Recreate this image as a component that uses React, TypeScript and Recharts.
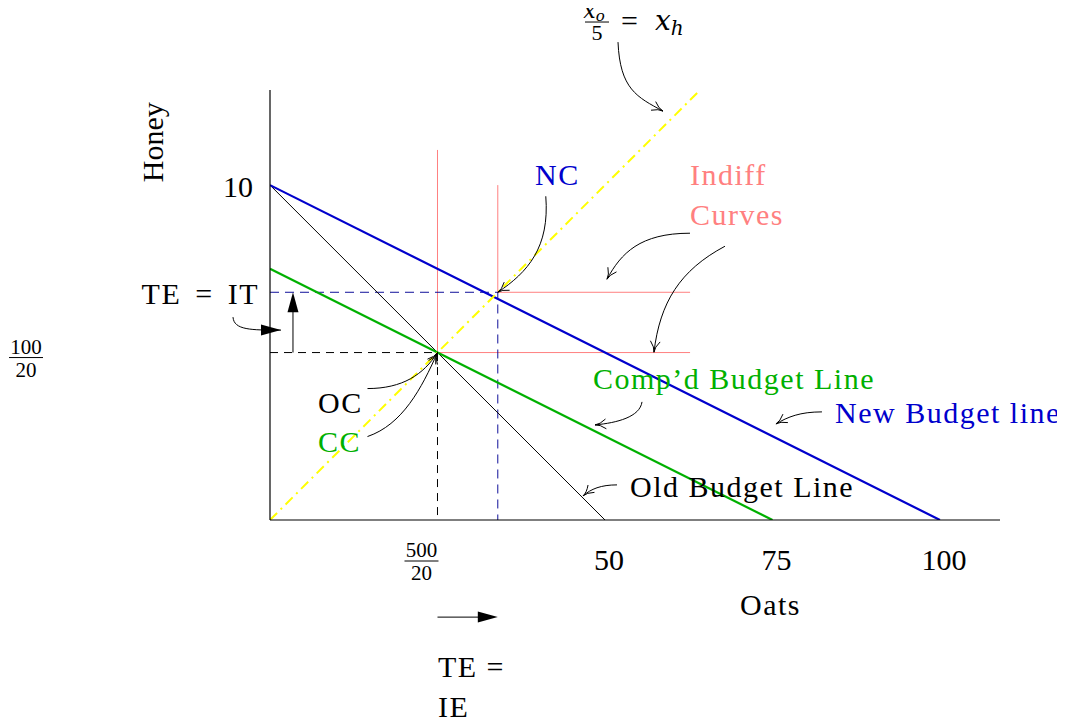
import React from "react";
import { LineChart, Line, XAxis, YAxis, ReferenceDot, ReferenceLine } from "recharts";

// budget lines (oats on x, honey on y)
const oldBudget = [{ x: 0, y: 10 }, { x: 50, y: 0 }];
const newBudget = [{ x: 0, y: 10 }, { x: 100, y: 0 }];
const compBudget = [{ x: 0, y: 7.5 }, { x: 75, y: 0 }];
const ratioLine = [{ x: 0, y: 0 }, { x: 64.2, y: 12.84 }];

// leontief indifference curves
const indiffOld = [{ x: 25, y: 11.05 }, { x: 25, y: 5 }, { x: 62.7, y: 5 }];
const indiffNew = [{ x: 34, y: 10 }, { x: 34, y: 6.8 }, { x: 62.7, y: 6.8 }];

// dashed guides down to the axes
const oldGuide = [{ x: 0, y: 5 }, { x: 25, y: 5 }, { x: 25, y: 0 }];
const newGuide = [{ x: 0, y: 6.8 }, { x: 34, y: 6.8 }, { x: 34, y: 0 }];

const xTicks = [25, 50, 75, 100];
const xTickLabels = ["500/20", "50", "75", "100"];
const yTicks = [5, 6.8, 10];
const yTickLabels = ["100/20", "TE = IT", "10"];

const BLUE = "#0000cc";
const GREEN = "#00b000";
const PINK = "#ff8080";
const NAVY = "#10109a";
const FONT = "Liberation Serif, DejaVu Serif, serif";

const notes = [
  { x: 39.55, y: 10.0, text: "NC", color: BLUE },
  { x: 62.69, y: 10.0, text: "Indiff", color: PINK },
  { x: 62.69, y: 8.81, text: "Curves", color: PINK },
  { x: 48.21, y: 3.91, text: "Comp\u2019d Budget Line", color: GREEN },
  { x: 84.33, y: 2.9, text: "New Budget line", color: BLUE },
  { x: 53.73, y: 0.69, text: "Old Budget Line", color: "#000" },
  { x: 7.16, y: 3.19, text: "OC", color: "#000" },
  { x: 7.16, y: 2.03, text: "CC", color: GREEN },
  { x: 70.15, y: -2.84, text: "Oats", color: "#000" },
  { x: 25.07, y: -4.69, text: "TE =", color: "#000" },
  { x: 25.07, y: -5.88, text: "IE", color: "#000" },
];

// curved arrows: tip in data units, bezier start / controls as pixel offsets from the tip
const curvedArrows = [
  { x: 58.66, y: 12.21, from: [-45, -69], c1: [-43, -22], c2: [-26, -14], filled: false },
  { x: 34, y: 6.8, from: [48, -96], c1: [52, -45], c2: [30, -20], filled: false },
  { x: 50.3, y: 7.19, from: [83, -46], c1: [33, -46], c2: [14, -26], filled: false },
  { x: 57.31, y: 5.01, from: [71, -106], c1: [26, -82], c2: [6, -50], filled: false },
  { x: 48.51, y: 2.84, from: [47, -23], c1: [45, -8], c2: [22, -2], filled: false },
  { x: 75.52, y: 2.87, from: [46, -12], c1: [24, -12], c2: [12, -7], filled: false },
  { x: 46.72, y: 0.72, from: [34, -11], c1: [18, -11], c2: [8, -7], filled: false },
  { x: 25, y: 5, from: [-70, 36], c1: [-35, 36], c2: [-14, 22], filled: false },
  { x: 25, y: 5, from: [-70, 84], c1: [-35, 72], c2: [-16, 36], filled: false },
  { x: 1.64, y: 5.67, from: [-48, -13], c1: [-47, 0], c2: [-30, 0], filled: true },
];

const arrowHead = (tx: number, ty: number, dx: number, dy: number, filled: boolean) => {
  const len = Math.hypot(dx, dy) || 1;
  const ux = dx / len;
  const uy = dy / len;
  if (filled) {
    const L = 20, W = 5.5;
    const bx = tx - ux * L, by = ty - uy * L;
    return (
      <path
        d={`M${tx},${ty} L${bx - uy * W},${by + ux * W} L${bx + uy * W},${by - ux * W} Z`}
        fill="#000"
        stroke="none"
      />
    );
  }
  const L = 12, a = 0.42;
  const rot = (s: number) => [ux * Math.cos(s) - uy * Math.sin(s), ux * Math.sin(s) + uy * Math.cos(s)];
  const [r1x, r1y] = rot(a);
  const [r2x, r2y] = rot(-a);
  return (
    <path
      d={`M${tx - r1x * L},${ty - r1y * L} Q${tx - ux * 5},${ty - uy * 5} ${tx},${ty} Q${tx - ux * 5},${ty - uy * 5} ${tx - r2x * L},${ty - r2y * L}`}
      fill="none"
      stroke="#000"
      strokeWidth={1}
    />
  );
};

const txt = { fontFamily: FONT };
const ital = { fontFamily: "DejaVu Serif, Liberation Serif, serif", fontStyle: "italic" };

const Fraction = ({ cx, bar, num, den, w }: any) => (
  <g>
    <text x={cx} y={bar - 4} textAnchor="middle" fontSize={21} fill="#000" style={txt}>{num}</text>
    <line x1={cx - w / 2} x2={cx + w / 2} y1={bar} y2={bar} stroke="#000" strokeWidth={1} />
    <text x={cx} y={bar + 19} textAnchor="middle" fontSize={21} fill="#000" style={txt}>{den}</text>
  </g>
);

const XTick = (props: any) => {
  const { x, y, payload } = props;
  const label = xTickLabels[xTicks.indexOf(payload.value)];
  if (!label) return null;
  if (label.includes("/")) {
    const [num, den] = label.split("/");
    return <Fraction cx={x - 16} bar={y + 41} num={num} den={den} w={34} />;
  }
  return (
    <text x={x + 4} y={y + 50} textAnchor="middle" fontSize={30} fill="#000" style={txt}>
      {label}
    </text>
  );
};

const YTick = (props: any) => {
  const { x, y, payload } = props;
  const i = yTicks.indexOf(payload.value);
  const label = yTickLabels[i];
  if (!label) return null;
  if (label.includes("/")) {
    const [num, den] = label.split("/");
    return <Fraction cx={x - 244} bar={y + 5} num={num} den={den} w={34} />;
  }
  if (label === "10") {
    return (
      <text x={x - 17} y={y + 12} textAnchor="end" fontSize={30} fill="#000" style={txt}>
        {label}
      </text>
    );
  }
  return (
    <text x={x - 11} y={y + 12} textAnchor="end" fontSize={30} fill="#000"
      style={{ ...txt, letterSpacing: 1.5, wordSpacing: 5 }}>
      {label}
    </text>
  );
};

const App = () => {
  return (
    <div style={{ width: 1057, height: 715 }}>
      <LineChart
        width={1057}
        height={715}
        margin={{ top: 82, right: 65, bottom: 173, left: 202 }}
        style={{ fontFamily: FONT }}
      >
        <XAxis
          type="number"
          dataKey="x"
          domain={[0, 108.96]}
          allowDataOverflow
          ticks={xTicks}
          tick={<XTick />}
          tickLine={false}
          tickSize={0}
          tickMargin={0}
          height={30}
          axisLine={{ stroke: "#000", strokeWidth: 1.2 }}
        />
        <YAxis
          type="number"
          dataKey="y"
          domain={[0, 12.84]}
          allowDataOverflow
          ticks={yTicks}
          tick={<YTick />}
          tickLine={false}
          tickSize={0}
          tickMargin={0}
          width={60}
          axisLine={{ stroke: "#000", strokeWidth: 1.2 }}
        />

        <Line data={indiffOld} dataKey="y" stroke={PINK} strokeWidth={1} dot={false} activeDot={false} isAnimationActive={false} />
        <Line data={indiffNew} dataKey="y" stroke={PINK} strokeWidth={1} dot={false} activeDot={false} isAnimationActive={false} />
        <Line data={oldGuide} dataKey="y" stroke="#000" strokeWidth={1} strokeDasharray="8 6" dot={false} activeDot={false} isAnimationActive={false} />
        <Line data={newGuide} dataKey="y" stroke={NAVY} strokeWidth={1} strokeDasharray="9 6" dot={false} activeDot={false} isAnimationActive={false} />
        <Line data={oldBudget} dataKey="y" stroke="#000" strokeWidth={1} dot={false} activeDot={false} isAnimationActive={false} />
        <Line data={compBudget} dataKey="y" stroke={GREEN} strokeWidth={2.2} dot={false} activeDot={false} isAnimationActive={false} />
        <Line data={newBudget} dataKey="y" stroke={BLUE} strokeWidth={2.2} dot={false} activeDot={false} isAnimationActive={false} />
        <Line data={ratioLine} dataKey="y" stroke="#ffff00" strokeWidth={2} strokeDasharray="10 5 2 5" dot={false} activeDot={false} isAnimationActive={false} />

        {/* straight arrows: shift of the tangency point */}
        <ReferenceLine segment={[{ x: 3.43, y: 5 }, { x: 3.43, y: 6.3 }]} stroke="#000" strokeWidth={1} ifOverflow="visible" />
        <ReferenceDot x={3.43} y={6.8} r={0} ifOverflow="visible"
          shape={(p: any) => <g>{arrowHead(p.cx, p.cy, 0, -1, true)}</g>} />
        <ReferenceLine segment={[{ x: 25, y: -2.9 }, { x: 32, y: -2.9 }]} stroke="#000" strokeWidth={1} ifOverflow="visible" />
        <ReferenceDot x={34} y={-2.9} r={0} ifOverflow="visible"
          shape={(p: any) => <g>{arrowHead(p.cx, p.cy, 1, 0, true)}</g>} />

        {curvedArrows.map((a, i) => (
          <ReferenceDot
            key={`arr-${i}`}
            x={a.x}
            y={a.y}
            r={0}
            ifOverflow="visible"
            shape={(p: any) => {
              const { cx, cy } = p;
              const d = `M${cx + a.from[0]},${cy + a.from[1]} C${cx + a.c1[0]},${cy + a.c1[1]} ${cx + a.c2[0]},${cy + a.c2[1]} ${cx},${cy}`;
              return (
                <g>
                  <path d={d} fill="none" stroke="#000" strokeWidth={1} />
                  {arrowHead(cx, cy, -a.c2[0], -a.c2[1], a.filled)}
                </g>
              );
            }}
          />
        ))}

        {notes.map((n, i) => (
          <ReferenceDot
            key={`note-${i}`}
            x={n.x}
            y={n.y}
            r={0}
            ifOverflow="visible"
            shape={(p: any) => (
              <text x={p.cx} y={p.cy} fill={n.color} fontSize={30} style={{ ...txt, letterSpacing: 1.5 }}>
                {n.text}
              </text>
            )}
          />
        ))}

        {/* axis title for honey */}
        <ReferenceDot x={-15.97} y={11.28} r={0} ifOverflow="visible"
          shape={(p: any) => (
            <text x={p.cx} y={p.cy} textAnchor="middle" fontSize={30} style={txt}
              transform={`rotate(-90 ${p.cx} ${p.cy})`} fill="#000">
              Honey
            </text>
          )} />

        {/* x_o / 5 = x_h */}
        <ReferenceDot x={48.81} y={14.87} r={0} ifOverflow="visible"
          shape={(p: any) => (
            <g>
              <text x={p.cx - 3} y={p.cy - 4} textAnchor="middle" fontSize={22} fill="#000" style={ital}>
                x<tspan fontSize={15} dy={3}>o</tspan>
              </text>
              <line x1={p.cx - 12} x2={p.cx + 12} y1={p.cy} y2={p.cy} stroke="#000" strokeWidth={1} />
              <text x={p.cx} y={p.cy + 18} textAnchor="middle" fontSize={22} fill="#000" style={txt}>5</text>
              <text x={p.cx + 24} y={p.cy + 9} fontSize={30} fill="#000" style={txt}>=</text>
              <text x={p.cx + 58} y={p.cy + 8} fontSize={28} fill="#000" style={ital}>
                x<tspan fontSize={20} dy={5}>h</tspan>
              </text>
            </g>
          )} />
      </LineChart>
    </div>
  );
};

export default App;
